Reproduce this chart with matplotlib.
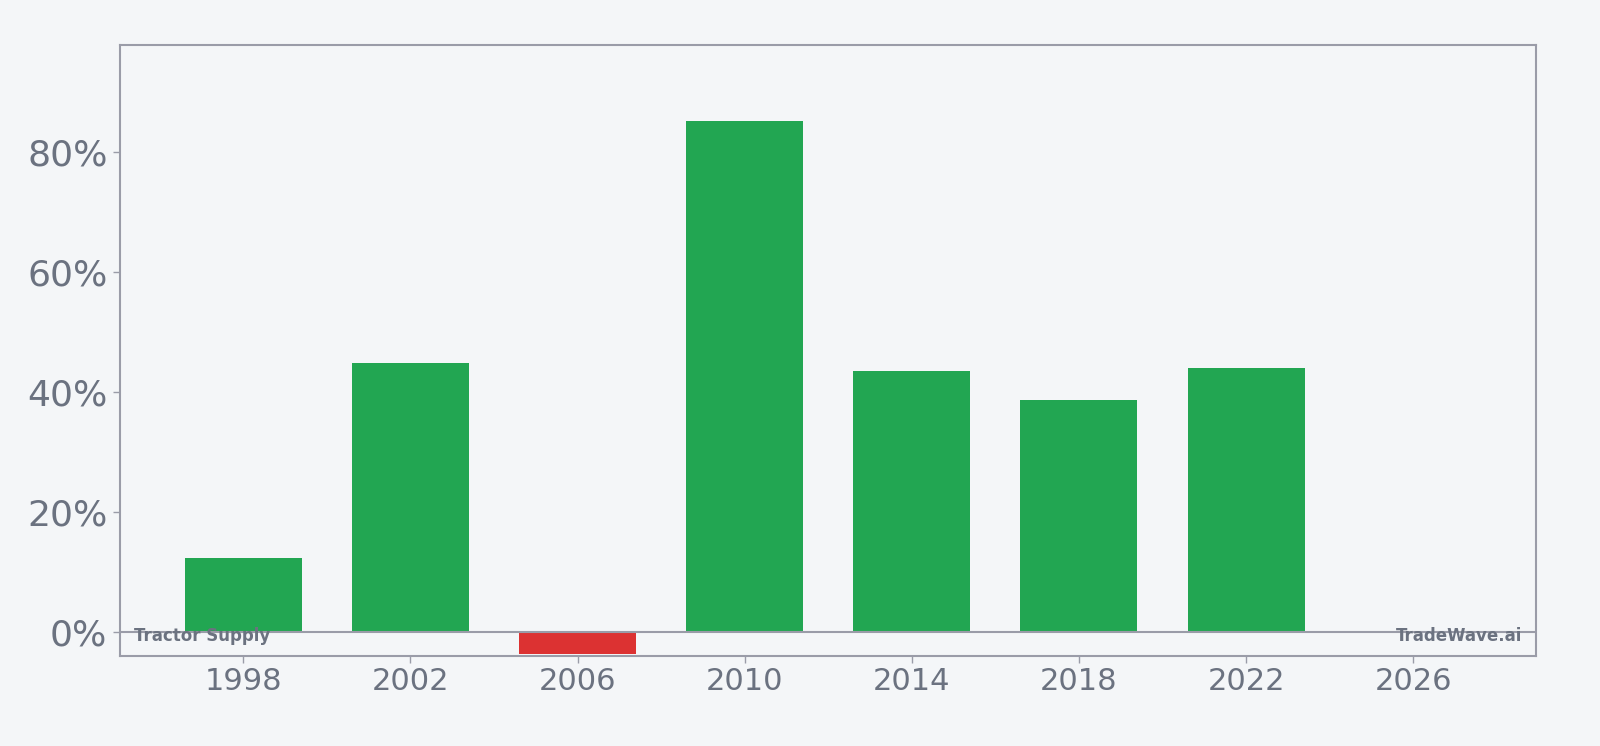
import matplotlib
matplotlib.use("Agg")
import matplotlib.pyplot as plt
from matplotlib.ticker import FuncFormatter

years = [1998, 2002, 2006, 2010, 2014, 2018, 2022]
values = [12.3, 44.8, -3.6, 85.1, 43.5, 38.7, 44.0]
xticks = [1998, 2002, 2006, 2010, 2014, 2018, 2022, 2026]
yticks = [0, 20, 40, 60, 80]

bg = "#f4f6f8"
green = "#22a652"
red = "#dc3232"
spine = "#9a9ca8"
txt = "#6b7280"

fig = plt.figure(figsize=(16, 7.46), dpi=100, facecolor=bg)
ax = fig.add_axes([0.075, 0.1206, 0.885, 0.8191], facecolor=bg)

colors = [green if v >= 0 else red for v in values]
ax.bar(years, values, width=2.8, color=colors, zorder=2)
ax.axhline(0, color=spine, linewidth=1.5, zorder=3)

ax.set_xlim(1995.05, 2028.94)
ax.set_ylim(-4.0, 97.8)
ax.set_xticks(xticks)
ax.set_yticks(yticks)
ax.yaxis.set_major_formatter(FuncFormatter(lambda v, p: f"{v:.0f}%"))
ax.tick_params(axis="x", labelsize=22, colors=spine, labelcolor=txt, length=5, width=1, pad=3)
ax.tick_params(axis="y", labelsize=26, colors=spine, labelcolor=txt, length=5, width=1, pad=4)
for s in ax.spines.values():
    s.set_color(spine)
    s.set_linewidth(1.5)

ax.text(0.01, 0.018, "Tractor Supply", transform=ax.transAxes, fontsize=12, fontweight="bold",
        color=txt, ha="left", va="bottom", zorder=4)
ax.text(0.99, 0.018, "TradeWave.ai", transform=ax.transAxes, fontsize=12, fontweight="bold",
        color=txt, ha="right", va="bottom", zorder=4)

fig.savefig("out.png", dpi=100, facecolor=bg)
